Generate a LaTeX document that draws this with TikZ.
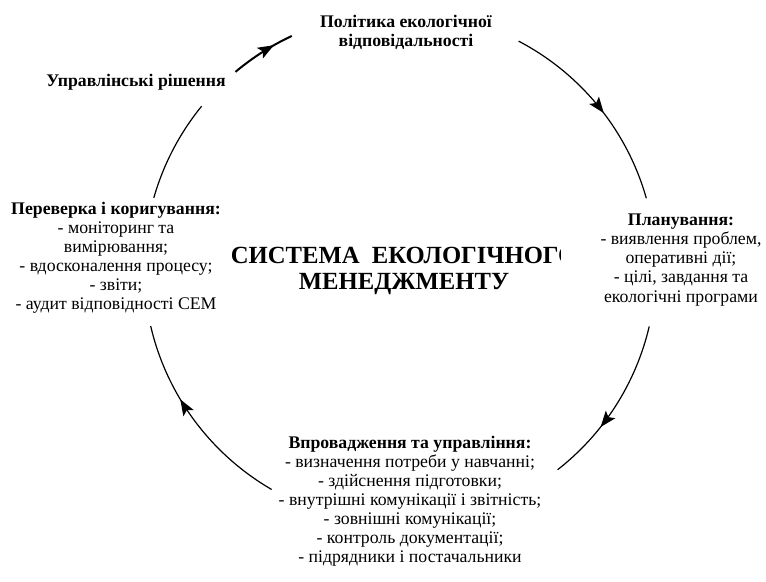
\documentclass[tikz,border=0pt]{standalone}
\usepackage{tikz}
\usepackage{fontspec}
\setmainfont{LiberationSerif}[Extension=.ttf, UprightFont=*-Regular, BoldFont=*-Bold]
\usetikzlibrary{arrows.meta}
\usetikzlibrary{decorations.markings}

\tikzset{arrowmark/.style={postaction={decorate},
		decoration={markings, mark=at position #1 with {\arrow{Stealth[length=12pt, width=9pt, inset=2.5pt]}}}}}

\begin{document}
\begin{tikzpicture}[x=0.75pt, y=0.75pt]
				\useasboundingbox (0,0) rectangle (766,581);
				\begin{scope}[every node/.style = {align=center, inner sep=0pt,
						font = \fontsize{13.3}{14.3}\selectfont}]
					\node (P) at (406,549) {\textbf{Політика екологічної}\\\textbf{відповідальності}};
					\node (U) at (136,499) {\textbf{Управлінські рішення}};
					\node (L) at (681,321) {\textbf{Планування:}\\- виявлення проблем,\\оперативні дії;\\- цілі, завдання та\\екологічні програми};
					\node (K) at (116,323) {\textbf{Переверка і коригування:}\\- моніторинг та\\вимірювання;\\- вдосконалення процесу;\\- звіти;\\- аудит відповідності СЕМ};
					\node (V) at (410,80) {\textbf{Впровадження та управління:}\\- визначення потреби у навчанні;\\- здійснення підготовки;\\- внутрішні комунікації і звітність;\\- зовнішні комунікації;\\- контроль документації;\\- підрядники і постачальники};
				\end{scope}
				\begin{scope}
					\clip (200,260) rectangle (560,360);
					\node (S) [align=center, inner sep=0pt, font = \fontsize{18.5}{20}\selectfont\bfseries]
						at (404,310) {СИСТЕМА\ \ ЕКОЛОГІЧНОГО\\МЕНЕДЖМЕНТУ};
				\end{scope}
				\coordinate (O) at (400,313);
				\coordinate (A1) at ([shift={(O)}]130:256);
				\coordinate (A2) at ([shift={(O)}]62.4:256);
				\coordinate (A3) at ([shift={(O)}]-13.2:256);
				\coordinate (A4) at ([shift={(O)}]239.9:256);
				\coordinate (A5) at ([shift={(O)}]164.1:256);
				\begin{scope}[line width=0.9pt]
					\draw [arrowmark=0.7, line width=1.5pt] (A1) arc [start angle=130, end angle=115, radius=256];
					\draw [arrowmark=0.54] (A2) arc [start angle=62.4, end angle=15.8, radius=256];
					\draw [arrowmark=0.65] (A3) arc [start angle=-13.2, end angle=-52, radius=256];
					\draw [arrowmark=0.62] (A4) arc [start angle=239.9, end angle=193.1, radius=256];
					\draw (A5) arc [start angle=164.1, end angle=140.8, radius=256];
				\end{scope}
			\end{tikzpicture}
\end{document}
